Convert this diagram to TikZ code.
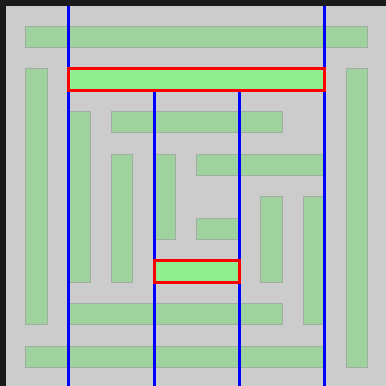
\documentclass[tikz,border=0pt]{standalone}
\definecolor{darkbg}{RGB}{26,26,26}
\definecolor{floor}{RGB}{204,204,204}
\definecolor{wallfill}{RGB}{160,210,160}
\definecolor{walledge}{RGB}{160,176,160}
\definecolor{hlfill}{RGB}{144,238,144}
\tikzset{
  wall/.style={fill=wallfill,draw=walledge,line width=1pt},
  hlwall/.style={fill=hlfill,draw=red,line width=3pt},
  scanline/.style={draw=blue,line width=3pt}
}
\begin{document}
\begin{tikzpicture}[x=21.3333pt,y=-21.3333pt]
\useasboundingbox (-0.21875,-0.21875) rectangle (17.875,17.875);
\fill[darkbg] (-0.21875,-0.21875) rectangle (17.875,17.875);
\fill[floor] (0.0625,0.0625) rectangle (17.875,17.875);
% outer ring
\draw[wall] (1,1) rectangle (17,2);
\draw[wall] (1,3) rectangle (2,15);
\draw[wall] (16,3) rectangle (17,17);
\draw[wall] (1,16) rectangle (15,17);
% second ring
\draw[wall] (3,5) rectangle (4,13);
\draw[wall] (5,5) rectangle (13,6);
\draw[wall] (3,14) rectangle (13,15);
\draw[wall] (14,9) rectangle (15,15);
% third ring
\draw[wall] (5,7) rectangle (6,13);
\draw[wall] (7,7) rectangle (8,11);
\draw[wall] (9,7) rectangle (15,8);
\draw[wall] (12,9) rectangle (13,13);
\draw[wall] (9,10) rectangle (11,11);
% scan lines
\foreach \x in {3,15}
  \draw[scanline] (\x,0.0625) -- (\x,17.875);
\foreach \x in {7,11}
  \draw[scanline] (\x,4) -- (\x,17.875);
% highlighted walls
\draw[hlwall] (3,3) rectangle (15,4);
\draw[hlwall] (7,12) rectangle (11,13);
\end{tikzpicture}
\end{document}
